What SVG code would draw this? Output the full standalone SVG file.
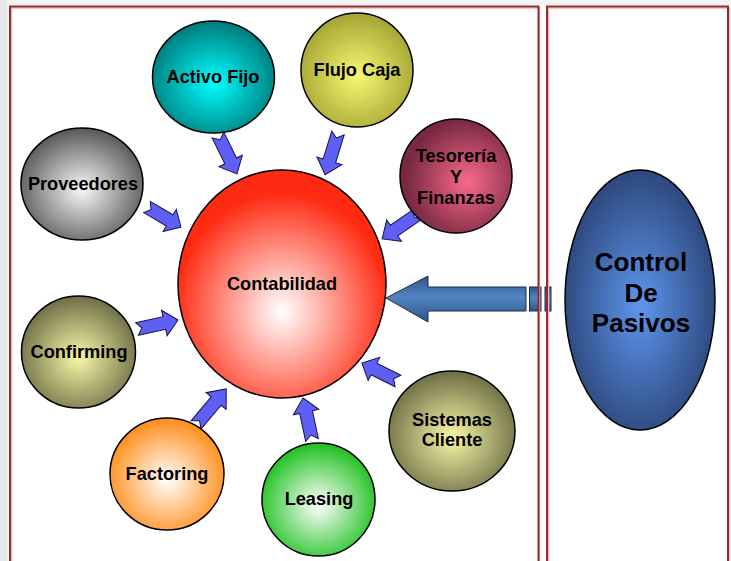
<svg xmlns="http://www.w3.org/2000/svg" xmlns:xlink="http://www.w3.org/1999/xlink" width="731" height="561" viewBox="0 0 731 561">
<defs>
<style>
.lbl{font-family:"Liberation Sans",Arial,sans-serif;font-weight:bold;font-size:18.2px;fill:#000;text-anchor:middle}
.big{font-size:26px}
.node{stroke:#000;stroke-width:1.5}
.sarr{fill:#5f5ff5;stroke:#15154a;stroke-width:1}
.frame{fill:none;stroke:#992a2a;stroke-width:2}
.frameSh{fill:none;stroke:#e8bcbc;stroke-width:1.5}
</style>
<radialGradient id="gRed" cx="50%" cy="62%" r="52%"><stop offset="0" stop-color="#ffffff"/><stop offset="0.2" stop-color="#ffd6d0"/><stop offset="1" stop-color="#ff2a12"/></radialGradient>
<radialGradient id="gTeal" cx="50%" cy="55%" r="55%"><stop offset="0" stop-color="#00ffff"/><stop offset="1" stop-color="#007a7a"/></radialGradient>
<radialGradient id="gYel" cx="50%" cy="55%" r="55%"><stop offset="0" stop-color="#f8f872"/><stop offset="1" stop-color="#a4a434"/></radialGradient>
<radialGradient id="gMar" cx="60%" cy="55%" r="55%"><stop offset="0" stop-color="#f86a8c"/><stop offset="1" stop-color="#782840"/></radialGradient>
<radialGradient id="gGray" cx="50%" cy="55%" r="55%"><stop offset="0" stop-color="#f8f8f8"/><stop offset="1" stop-color="#585858"/></radialGradient>
<radialGradient id="gOlive" cx="50%" cy="55%" r="55%"><stop offset="0" stop-color="#f8f8a8"/><stop offset="1" stop-color="#6e6e46"/></radialGradient>
<radialGradient id="gOrange" cx="50%" cy="55%" r="55%"><stop offset="0" stop-color="#ffffff"/><stop offset="1" stop-color="#ff8c18"/></radialGradient>
<radialGradient id="gGreen" cx="50%" cy="55%" r="55%"><stop offset="0" stop-color="#ffffff"/><stop offset="1" stop-color="#1ec01e"/></radialGradient>
<radialGradient id="gBlue" cx="50%" cy="52%" r="55%"><stop offset="0" stop-color="#5e96ee"/><stop offset="1" stop-color="#2a4476"/></radialGradient>
<linearGradient id="gArrow" x1="0" y1="0" x2="0" y2="1"><stop offset="0" stop-color="#2c5588"/><stop offset="0.45" stop-color="#5284c0"/><stop offset="1" stop-color="#2c5588"/></linearGradient>
<path id="arr" d="M0,-6.5 L28,-6.5 L28,-13 L42,0 L28,13 L28,6.5 L0,6.5 L5,0 Z"/>
</defs>
<rect x="0" y="0" width="731" height="561" fill="#ffffff"/>
<rect x="0" y="0" width="731" height="5" fill="#f4f4f4"/>
<rect x="0" y="0" width="7.5" height="561" fill="#e6e6e6"/>

<g id="connectors">
<use xlink:href="#arr" class="sarr" transform="translate(218,135) rotate(64) scale(1.03,1)"/>
<use xlink:href="#arr" class="sarr" transform="translate(338,133) rotate(107.2) scale(1.04,1)"/>
<use xlink:href="#arr" class="sarr" transform="translate(147,207) rotate(30.5) scale(0.94,1)"/>
<use xlink:href="#arr" class="sarr" transform="translate(418,214) rotate(145.2) scale(1.04,1)"/>
<use xlink:href="#arr" class="sarr" transform="translate(137,329) rotate(-12.4) scale(1,1)"/>
<use xlink:href="#arr" class="sarr" transform="translate(196,425) rotate(-50) scale(1.12,1)"/>
<use xlink:href="#arr" class="sarr" transform="translate(312,440) rotate(-102) scale(1.02,1)"/>
<use xlink:href="#arr" class="sarr" transform="translate(398,381) rotate(206.6) scale(0.96,1)"/>
<g id="bigArrow" fill="url(#gArrow)" stroke="#1c2c44" stroke-width="1">
<path d="M386,298 L428,276 L428,287 L526,287 L526,311 L428,311 L428,322 Z"/>
<rect x="529.5" y="287" width="11.5" height="24"/>
<rect x="545" y="287" width="6" height="24"/>
</g>
</g>

<g id="contabilidad">
<ellipse class="node" cx="282" cy="284" rx="104" ry="114" fill="url(#gRed)"/>
<text class="lbl" x="282" y="290">Contabilidad</text>
</g>
<g id="activoFijo">
<ellipse class="node" cx="213.5" cy="77" rx="61" ry="56" fill="url(#gTeal)"/>
<text class="lbl" x="213" y="83">Activo Fijo</text>
</g>
<g id="flujoCaja">
<ellipse class="node" cx="357" cy="70" rx="56" ry="57" fill="url(#gYel)"/>
<text class="lbl" x="357" y="76">Flujo Caja</text>
</g>
<g id="tesoreria">
<ellipse class="node" cx="456" cy="176" rx="56" ry="57" fill="url(#gMar)"/>
<text class="lbl" x="456" y="162">Tesorería</text>
<text class="lbl" x="456" y="183">Y</text>
<text class="lbl" x="456" y="204">Finanzas</text>
</g>
<g id="proveedores">
<ellipse class="node" cx="82" cy="184" rx="61" ry="56" fill="url(#gGray)"/>
<text class="lbl" x="83" y="190">Proveedores</text>
</g>
<g id="confirming">
<ellipse class="node" cx="78.5" cy="352" rx="57" ry="56" fill="url(#gOlive)"/>
<text class="lbl" x="79" y="358">Confirming</text>
</g>
<g id="factoring">
<ellipse class="node" cx="167" cy="474" rx="57" ry="56" fill="url(#gOrange)"/>
<text class="lbl" x="167" y="480">Factoring</text>
</g>
<g id="leasing">
<ellipse class="node" cx="318.5" cy="499.5" rx="56.5" ry="56.5" fill="url(#gGreen)"/>
<text class="lbl" x="319" y="505">Leasing</text>
</g>
<g id="sistemasCliente">
<ellipse class="node" cx="452" cy="431" rx="63" ry="60" fill="url(#gOlive)"/>
<text class="lbl" x="452" y="426">Sistemas</text>
<text class="lbl" x="452" y="446">Cliente</text>
</g>
<g id="controlPasivos">
<ellipse class="node" cx="640" cy="300" rx="75" ry="130" fill="url(#gBlue)"/>
<text class="lbl big" x="641" y="271">Control</text>
<text class="lbl big" x="641" y="302">De</text>
<text class="lbl big" x="641" y="332">Pasivos</text>
</g>

<g id="frames">
<rect class="frameSh" x="11.5" y="8" width="528" height="570"/>
<rect class="frameSh" x="548.5" y="8" width="181" height="570"/>
<rect class="frame" x="10" y="6.5" width="528.5" height="570"/>
<rect class="frame" x="547" y="6.5" width="181" height="570"/>
</g>
</svg>
